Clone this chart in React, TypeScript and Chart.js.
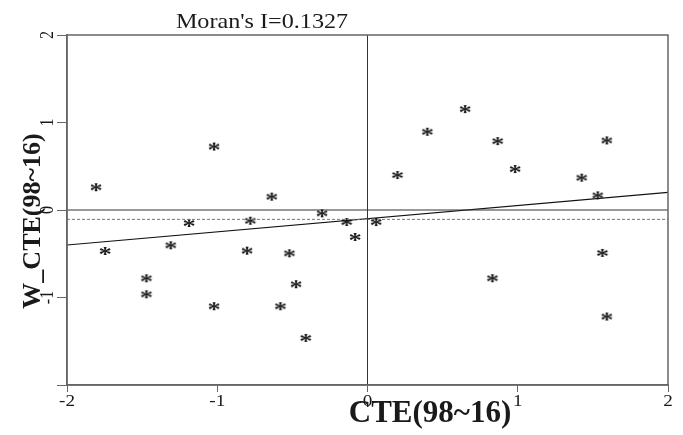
import React, { useEffect, useRef } from "react";
import { Chart, registerables } from "chart.js";

Chart.register(...registerables);

// CTE(98~16) values (x) and spatial lag W_CTE(98~16) values (y)
const xValues = [
  -1.807, -1.022, -0.638, -0.303, -1.188, -0.78, -0.139, 0.057, -0.083, -1.747,
  -1.31, -0.802, -0.52, -1.472, -1.472, -0.476, -1.022, -0.58, -0.411,
  0.649, 0.398, 0.866, 1.592, 0.199, 0.982, 1.425, 1.532, 1.563, 0.831, 1.592,
];
const yValues = [
  0.249, 0.714, 0.141, -0.049, -0.16, -0.134, -0.149, -0.149, -0.32, -0.48,
  -0.415, -0.476, -0.506, -0.792, -0.975, -0.86, -1.111, -1.111, -1.473,
  1.142, 0.883, 0.776, 0.784, 0.388, 0.457, 0.358, 0.156, -0.502, -0.791, -1.229,
];
const fitX = [-2, 2];
const fitY = [-0.4, 0.202];
const meanLineY = -0.107;
const xTicks = [-2, -1, 0, 1, 2];
const yTicks = [-1, 0, 1, 2];
const titleText = "Moran's I=0.1327";
const xTitle = "CTE(98~16)";
const yTitle = "W_CTE(98~16)";

function makeStar(): HTMLCanvasElement {
  const c = document.createElement("canvas");
  c.width = 16;
  c.height = 14;
  const g = c.getContext("2d")!;
  g.fillStyle = "#1a1a1a";
  g.font = "bold 22px 'Liberation Serif'";
  g.textAlign = "center";
  g.textBaseline = "alphabetic";
  const m = g.measureText("*");
  const asc = m.actualBoundingBoxAscent;
  const desc = m.actualBoundingBoxDescent;
  const baseline = 6 + (asc - desc) / 2;
  g.translate(8, 0);
  g.scale(1.2, 1);
  g.fillText("*", 0, baseline);
  return c;
}

function stretchedText(ctx: CanvasRenderingContext2D, text: string, x: number, y: number, sx: number) {
  ctx.save();
  ctx.translate(x, y);
  ctx.scale(sx, 1);
  ctx.fillText(text, 0, 0);
  ctx.restore();
}

const overlay = {
  id: "overlay",
  afterDraw(chart: any) {
    const { ctx, chartArea } = chart;
    const xs = chart.scales.x;
    const ys = chart.scales.y;
    ctx.save();
    ctx.strokeStyle = "#666";
    ctx.lineWidth = 1.5;
    ctx.strokeRect(chartArea.left, chartArea.top, chartArea.right - chartArea.left, chartArea.bottom - chartArea.top);

    ctx.fillStyle = "#1a1a1a";
    ctx.font = "16px 'Liberation Serif'";
    ctx.textAlign = "center";
    ctx.textBaseline = "middle";
    for (const v of xTicks) {
      stretchedText(ctx, String(v), xs.getPixelForValue(v), 402, 1.2);
    }
    ctx.font = "16px 'Liberation Serif'";
    for (const v of yTicks) {
      ctx.save();
      ctx.translate(48, ys.getPixelForValue(v));
      ctx.rotate(-Math.PI / 2);
      ctx.scale(1, 1.15);
      ctx.fillText(String(v), 0, 0);
      ctx.restore();
    }

    ctx.font = "21px 'Liberation Serif'";
    stretchedText(ctx, titleText, 262, 22, 1.15);

    ctx.font = "bold 31px 'Liberation Serif'";
    ctx.fillText(xTitle, 430, 414);

    ctx.save();
    ctx.translate(33, 221);
    ctx.rotate(-Math.PI / 2);
    ctx.font = "bold 26px 'Liberation Serif'";
    ctx.fillText(yTitle, 0, 0);
    ctx.restore();
    ctx.restore();
  },
};

export default function App() {
  const ref = useRef<HTMLCanvasElement>(null);
  useEffect(() => {
    if (!ref.current) return;
    const star = makeStar();
    const points = xValues.map((x, i) => ({ x, y: yValues[i] }));
    const chart = new Chart(ref.current, {
      type: "scatter",
      data: {
        datasets: [
          {
            type: "line",
            data: [{ x: -2, y: 0 }, { x: 2, y: 0 }],
            borderColor: "#333",
            borderWidth: 1,
            pointRadius: 0,
          } as any,
          {
            type: "line",
            data: [{ x: 0, y: -2 }, { x: 0, y: 2 }],
            borderColor: "#333",
            borderWidth: 1,
            pointRadius: 0,
          } as any,
          {
            type: "line",
            data: [{ x: -2, y: meanLineY }, { x: 2, y: meanLineY }],
            borderColor: "#777",
            borderWidth: 1,
            borderDash: [3, 2],
            pointRadius: 0,
          } as any,
          {
            type: "line",
            data: fitX.map((x, i) => ({ x, y: fitY[i] })),
            borderColor: "#111",
            borderWidth: 1.2,
            pointRadius: 0,
          } as any,
          {
            data: points,
            pointStyle: star as any,
            pointRadius: 7,
            showLine: false,
          },
        ],
      },
      options: {
        animation: false,
        responsive: false,
        layout: { padding: { top: 35, right: 15, left: 0, bottom: 0 } },
        plugins: { legend: { display: false }, tooltip: { enabled: false } },
        scales: {
          x: {
            type: "linear",
            min: -2,
            max: 2,
            ticks: { stepSize: 1, display: false },
            grid: { drawOnChartArea: false, drawTicks: true, tickLength: 7, color: "#666" },
            border: { display: true, color: "#666", width: 1.5 },
            afterFit: (s: any) => { s.height = 50; },
          },
          y: {
            type: "linear",
            min: -2,
            max: 2,
            ticks: { stepSize: 1, display: false },
            grid: { drawOnChartArea: false, drawTicks: true, tickLength: 10, color: "#666" },
            border: { display: true, color: "#666", width: 1.5 },
            afterFit: (s: any) => { s.width = 67; },
          },
        },
      },
      plugins: [overlay],
    });
    return () => chart.destroy();
  }, []);
  return (
    <div style={{ position: "fixed", left: 0, top: 0, width: 683, height: 435, background: "#fff" }}>
      <canvas ref={ref} width={683} height={435} style={{ width: 683, height: 435 }} />
    </div>
  );
}
